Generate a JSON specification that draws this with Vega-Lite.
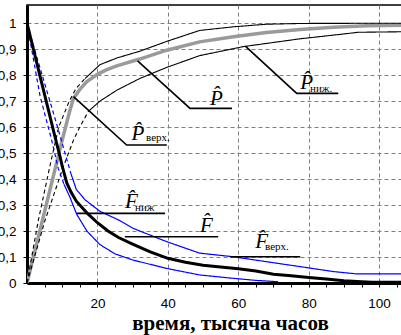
{
  "$schema": "https://vega.github.io/schema/vega-lite/v6.json",
  "autosize": {"type": "none"},
  "padding": {"left": 27, "top": 5, "right": 0, "bottom": 52},
  "width": 375,
  "height": 278,
  "background": "white",
  "config": {
    "view": {"stroke": "black", "strokeWidth": 1.5},
    "axis": {"labelFont": "Liberation Sans", "labelColor": "black", "labelFontSize": 13.5}
  },
  "datasets": {
    "curves": [
      {"s": "P", "seg": "s", "x": 0, "y": 0}, {"s": "P", "seg": "s", "x": 2, "y": 0.11}, {"s": "P", "seg": "s", "x": 4, "y": 0.22}, {"s": "P", "seg": "s", "x": 6, "y": 0.33}, {"s": "P", "seg": "s", "x": 8, "y": 0.44}, {"s": "P", "seg": "s", "x": 10, "y": 0.55}, {"s": "P", "seg": "s", "x": 12, "y": 0.655}, {"s": "P", "seg": "s", "x": 13.2, "y": 0.71}, {"s": "P", "seg": "s", "x": 15, "y": 0.745}, {"s": "P", "seg": "s", "x": 17, "y": 0.775}, {"s": "P", "seg": "s", "x": 20, "y": 0.803}, {"s": "P", "seg": "s", "x": 22.5, "y": 0.82}, {"s": "P", "seg": "s", "x": 25.5, "y": 0.836}, {"s": "P", "seg": "s", "x": 32, "y": 0.862}, {"s": "P", "seg": "s", "x": 39.7, "y": 0.896}, {"s": "P", "seg": "s", "x": 49, "y": 0.928}, {"s": "P", "seg": "s", "x": 58.6, "y": 0.948}, {"s": "P", "seg": "s", "x": 68, "y": 0.964}, {"s": "P", "seg": "s", "x": 77.6, "y": 0.976}, {"s": "P", "seg": "s", "x": 87, "y": 0.984}, {"s": "P", "seg": "s", "x": 96.5, "y": 0.99}, {"s": "P", "seg": "s", "x": 106.5, "y": 0.992},

      {"s": "Pu", "seg": "d", "x": 0, "y": 0}, {"s": "Pu", "seg": "d", "x": 3.2, "y": 0.24}, {"s": "Pu", "seg": "d", "x": 6.5, "y": 0.45}, {"s": "Pu", "seg": "d", "x": 9, "y": 0.6}, {"s": "Pu", "seg": "d", "x": 12, "y": 0.7}, {"s": "Pu", "seg": "d", "x": 14, "y": 0.75}, {"s": "Pu", "seg": "d", "x": 16.5, "y": 0.787},
      {"s": "Pu", "seg": "s", "x": 16.5, "y": 0.787}, {"s": "Pu", "seg": "s", "x": 20.7, "y": 0.84}, {"s": "Pu", "seg": "s", "x": 25.5, "y": 0.866}, {"s": "Pu", "seg": "s", "x": 32, "y": 0.892}, {"s": "Pu", "seg": "s", "x": 39.7, "y": 0.93}, {"s": "Pu", "seg": "s", "x": 49, "y": 0.972}, {"s": "Pu", "seg": "s", "x": 58.6, "y": 0.986}, {"s": "Pu", "seg": "s", "x": 68, "y": 0.996}, {"s": "Pu", "seg": "s", "x": 78, "y": 0.999}, {"s": "Pu", "seg": "s", "x": 106.5, "y": 1.0},

      {"s": "Pl", "seg": "d", "x": 0, "y": 0}, {"s": "Pl", "seg": "d", "x": 5.1, "y": 0.24}, {"s": "Pl", "seg": "d", "x": 10.3, "y": 0.447}, {"s": "Pl", "seg": "d", "x": 13.2, "y": 0.55}, {"s": "Pl", "seg": "d", "x": 15, "y": 0.6}, {"s": "Pl", "seg": "d", "x": 17.4, "y": 0.66},
      {"s": "Pl", "seg": "s", "x": 17.4, "y": 0.66}, {"s": "Pl", "seg": "s", "x": 20.7, "y": 0.7}, {"s": "Pl", "seg": "s", "x": 25.5, "y": 0.742}, {"s": "Pl", "seg": "s", "x": 32, "y": 0.787}, {"s": "Pl", "seg": "s", "x": 39.7, "y": 0.83}, {"s": "Pl", "seg": "s", "x": 49, "y": 0.875}, {"s": "Pl", "seg": "s", "x": 61.5, "y": 0.91}, {"s": "Pl", "seg": "s", "x": 77.6, "y": 0.94}, {"s": "Pl", "seg": "s", "x": 89, "y": 0.957}, {"s": "Pl", "seg": "s", "x": 94, "y": 0.965}, {"s": "Pl", "seg": "s", "x": 106.5, "y": 0.967},

      {"s": "F", "seg": "s", "x": 0, "y": 1}, {"s": "F", "seg": "s", "x": 2, "y": 0.89}, {"s": "F", "seg": "s", "x": 4, "y": 0.78}, {"s": "F", "seg": "s", "x": 6, "y": 0.67}, {"s": "F", "seg": "s", "x": 8, "y": 0.56}, {"s": "F", "seg": "s", "x": 9.4, "y": 0.485}, {"s": "F", "seg": "s", "x": 10, "y": 0.45}, {"s": "F", "seg": "s", "x": 11.3, "y": 0.385}, {"s": "F", "seg": "s", "x": 12.5, "y": 0.35}, {"s": "F", "seg": "s", "x": 14, "y": 0.315}, {"s": "F", "seg": "s", "x": 17, "y": 0.27}, {"s": "F", "seg": "s", "x": 20, "y": 0.232}, {"s": "F", "seg": "s", "x": 23, "y": 0.2}, {"s": "F", "seg": "s", "x": 26, "y": 0.175}, {"s": "F", "seg": "s", "x": 30, "y": 0.15}, {"s": "F", "seg": "s", "x": 35, "y": 0.12}, {"s": "F", "seg": "s", "x": 40, "y": 0.095}, {"s": "F", "seg": "s", "x": 45, "y": 0.08}, {"s": "F", "seg": "s", "x": 50, "y": 0.068}, {"s": "F", "seg": "s", "x": 55, "y": 0.062}, {"s": "F", "seg": "s", "x": 60, "y": 0.055}, {"s": "F", "seg": "s", "x": 65, "y": 0.046}, {"s": "F", "seg": "s", "x": 70, "y": 0.034}, {"s": "F", "seg": "s", "x": 75, "y": 0.028}, {"s": "F", "seg": "s", "x": 80, "y": 0.021}, {"s": "F", "seg": "s", "x": 85, "y": 0.015}, {"s": "F", "seg": "s", "x": 90, "y": 0.009}, {"s": "F", "seg": "s", "x": 95, "y": 0.005}, {"s": "F", "seg": "s", "x": 98, "y": 0.003}, {"s": "F", "seg": "s", "x": 106.5, "y": 0.003},

      {"s": "Fu", "seg": "d", "x": 0, "y": 1}, {"s": "Fu", "seg": "d", "x": 3, "y": 0.86}, {"s": "Fu", "seg": "d", "x": 6.5, "y": 0.7}, {"s": "Fu", "seg": "d", "x": 9, "y": 0.585}, {"s": "Fu", "seg": "d", "x": 11, "y": 0.49}, {"s": "Fu", "seg": "d", "x": 12.5, "y": 0.42},
      {"s": "Fu", "seg": "s", "x": 12.5, "y": 0.42}, {"s": "Fu", "seg": "s", "x": 14, "y": 0.36}, {"s": "Fu", "seg": "s", "x": 16.5, "y": 0.32}, {"s": "Fu", "seg": "s", "x": 20.7, "y": 0.276}, {"s": "Fu", "seg": "s", "x": 26.4, "y": 0.24}, {"s": "Fu", "seg": "s", "x": 30.2, "y": 0.21}, {"s": "Fu", "seg": "s", "x": 39.7, "y": 0.159}, {"s": "Fu", "seg": "s", "x": 49, "y": 0.115}, {"s": "Fu", "seg": "s", "x": 58.6, "y": 0.101}, {"s": "Fu", "seg": "s", "x": 68, "y": 0.082}, {"s": "Fu", "seg": "s", "x": 77.6, "y": 0.063}, {"s": "Fu", "seg": "s", "x": 87, "y": 0.044}, {"s": "Fu", "seg": "s", "x": 93.7, "y": 0.035}, {"s": "Fu", "seg": "s", "x": 106.5, "y": 0.035},

      {"s": "Fl", "seg": "d", "x": 0, "y": 1}, {"s": "Fl", "seg": "d", "x": 3.7, "y": 0.72}, {"s": "Fl", "seg": "d", "x": 7, "y": 0.55}, {"s": "Fl", "seg": "d", "x": 8.9, "y": 0.44}, {"s": "Fl", "seg": "d", "x": 10.5, "y": 0.38},
      {"s": "Fl", "seg": "s", "x": 10.5, "y": 0.38}, {"s": "Fl", "seg": "s", "x": 12.2, "y": 0.33}, {"s": "Fl", "seg": "s", "x": 14.1, "y": 0.265}, {"s": "Fl", "seg": "s", "x": 17, "y": 0.2}, {"s": "Fl", "seg": "s", "x": 20.7, "y": 0.148}, {"s": "Fl", "seg": "s", "x": 25, "y": 0.112}, {"s": "Fl", "seg": "s", "x": 30.2, "y": 0.088}, {"s": "Fl", "seg": "s", "x": 39.7, "y": 0.056}, {"s": "Fl", "seg": "s", "x": 49, "y": 0.031}, {"s": "Fl", "seg": "s", "x": 58.6, "y": 0.018}, {"s": "Fl", "seg": "s", "x": 65, "y": 0.01}, {"s": "Fl", "seg": "s", "x": 71.3, "y": 0.005}
    ],
    "pointers": [
      {"id": "A", "x": 13.2, "y": 0.717}, {"id": "A", "x": 28.3, "y": 0.531}, {"id": "A", "x": 39.7, "y": 0.531},
      {"id": "B", "x": 31.4, "y": 0.855}, {"id": "B", "x": 46.3, "y": 0.672}, {"id": "B", "x": 58.2, "y": 0.672},
      {"id": "C", "x": 62, "y": 0.912}, {"id": "C", "x": 76.6, "y": 0.73}, {"id": "C", "x": 88.4, "y": 0.73},
      {"id": "D", "x": 14.1, "y": 0.268}, {"id": "D", "x": 39.2, "y": 0.268},
      {"id": "E", "x": 27.8, "y": 0.178}, {"id": "E", "x": 54.3, "y": 0.178},
      {"id": "F", "x": 57.7, "y": 0.101}, {"id": "F", "x": 77.6, "y": 0.101}
    ],
    "mains": [
      {"t": "P̂", "x": 29.7, "y": 0.55},
      {"t": "P̂", "x": 52, "y": 0.687},
      {"t": "P̂", "x": 77.6, "y": 0.745},
      {"t": "F̂", "x": 27.8, "y": 0.287},
      {"t": "F̂", "x": 49.1, "y": 0.197},
      {"t": "F̂", "x": 64.8, "y": 0.133}
    ],
    "subs": [
      {"t": "верх.", "x": 33.8, "y": 0.546},
      {"t": "ниж.", "x": 80.4, "y": 0.736},
      {"t": "ниж", "x": 30.7, "y": 0.278},
      {"t": "верх.", "x": 67.6, "y": 0.127}
    ]
  },
  "encoding": {
    "x": {
      "field": "x", "type": "quantitative",
      "scale": {"domain": [0, 106.5], "nice": false, "zero": false},
      "axis": {
        "values": [5, 10, 15, 20, 25, 30, 35, 40, 45, 50, 55, 60, 65, 70, 75, 80, 85, 90, 95, 100, 105],
        "labelExpr": "datum.value % 20 === 0 ? datum.value : ''",
        "grid": true,
        "gridDash": [4, 3],
        "gridColor": "#7f7f7f",
        "gridWidth": 1,
        "gridOpacity": {"condition": {"test": "datum.value % 20 === 0", "value": 1}, "value": 0},
        "domainColor": "black", "domainWidth": 3,
        "tickColor": "black", "tickSize": 4, "tickWidth": 1,
        "labelPadding": 9, "labelFlush": false,
        "title": "время, тысяча часов",
        "titleFont": "Liberation Serif", "titleFontSize": 21, "titleFontWeight": "bold", "titleColor": "black",
        "titleX": 203, "titleY": 46, "titleAlign": "center", "titleBaseline": "alphabetic", "titleAnchor": null
      }
    },
    "y": {
      "field": "y", "type": "quantitative",
      "scale": {"domain": [0, 1.07], "nice": false, "zero": false},
      "axis": {
        "values": [0, 0.1, 0.2, 0.3, 0.4, 0.5, 0.6, 0.7, 0.8, 0.9, 1],
        "labelExpr": "replace(format(datum.value, '.1~f'), '.', ',')",
        "grid": true, "gridDash": [4, 3], "gridColor": "#7f7f7f", "gridWidth": 1,
        "domainColor": "black", "domainWidth": 3,
        "tickColor": "black", "tickSize": 4,
        "labelPadding": 7, "labelFlush": false,
        "title": null
      }
    }
  },
  "layer": [
    {
      "data": {"name": "curves"},
      "transform": [{"filter": "datum.s === 'P'"}],
      "mark": {"type": "line", "color": "#9a9a9a", "strokeWidth": 3.5, "clip": true},
      "encoding": {"detail": {"field": "seg"}}
    },
    {
      "data": {"name": "curves"},
      "transform": [{"filter": "datum.s === 'Pu' || datum.s === 'Pl'"}],
      "mark": {"type": "line", "color": "black", "strokeWidth": 1.1, "clip": true},
      "encoding": {
        "detail": {"field": "s"},
        "strokeDash": {"field": "seg", "type": "nominal", "scale": {"domain": ["d", "s"], "range": [[4, 3], [1, 0]]}, "legend": null}
      }
    },
    {
      "data": {"name": "curves"},
      "transform": [{"filter": "datum.s === 'Fu' || datum.s === 'Fl'"}],
      "mark": {"type": "line", "color": "#0000ff", "strokeWidth": 1.2, "clip": true},
      "encoding": {
        "detail": {"field": "s"},
        "strokeDash": {"field": "seg", "type": "nominal", "scale": {"domain": ["d", "s"], "range": [[4, 3], [1, 0]]}, "legend": null}
      }
    },
    {
      "data": {"name": "curves"},
      "transform": [{"filter": "datum.s === 'F'"}],
      "mark": {"type": "line", "color": "black", "strokeWidth": 3, "clip": true},
      "encoding": {}
    },
    {
      "data": {"name": "pointers"},
      "mark": {"type": "line", "color": "black", "strokeWidth": 1.6},
      "encoding": {"detail": {"field": "id"}}
    },
    {
      "data": {"name": "mains"},
      "mark": {"type": "text", "align": "left", "baseline": "alphabetic", "font": "Liberation Serif", "fontStyle": "italic", "fontSize": 21, "color": "black"},
      "encoding": {"text": {"field": "t"}}
    },
    {
      "data": {"name": "subs"},
      "mark": {"type": "text", "align": "left", "baseline": "alphabetic", "font": "Liberation Serif", "fontSize": 11, "color": "black"},
      "encoding": {"text": {"field": "t"}}
    }
  ]
}
